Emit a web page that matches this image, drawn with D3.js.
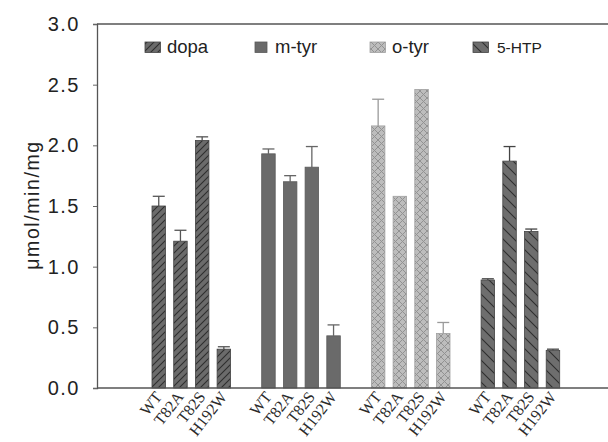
<!DOCTYPE html>
<html><head><meta charset="utf-8">
<script src="https://cdn.jsdelivr.net/npm/d3@7"></script>
<style>
html,body{margin:0;padding:0;background:#fff;}
svg{display:block;}
</style>
</head><body>
<svg id="chart" width="608" height="442"></svg>
<script>
// ---- data ----
const groups = ["dopa", "m-tyr", "o-tyr", "5-HTP"];
const variants = ["WT", "T82A", "T82S", "H192W"];
const dopa     = [1.50, 1.21, 2.04, 0.32];
const dopaErr  = [0.08, 0.09, 0.03, 0.02];
const mtyr     = [1.93, 1.70, 1.82, 0.43];
const mtyrErr  = [0.04, 0.05, 0.17, 0.09];
const otyr     = [2.16, 1.58, 2.46, 0.45];
const otyrErr  = [0.22, 0.00, 0.00, 0.09];
const htp      = [0.89, 1.87, 1.29, 0.31];
const htpErr   = [0.01, 0.12, 0.02, 0.01];
const yTicks   = [0, 0.5, 1.0, 1.5, 2.0, 2.5, 3.0];
const yLabel   = "μmol/min/mg";

const seriesVals = [dopa, mtyr, otyr, htp];
const seriesErr  = [dopaErr, mtyrErr, otyrErr, htpErr];

// ---- layout ----
const svg = d3.select("#chart");
const axisX = 97, topY = 24, baseY = 388, rightX = 608;

const y = d3.scaleLinear().domain([0, 3]).range([baseY, topY]);
const xOuter = d3.scaleBand().domain(groups).range([152, 559.7]).paddingInner(0.2835).paddingOuter(0);
const xInner = d3.scaleBand().domain(variants).range([0, xOuter.bandwidth()]).paddingInner(0.378).paddingOuter(0);

// ---- patterns ----
const defs = svg.append("defs");
// dopa: "/" hatch
const pD = defs.append("pattern").attr("id", "pat-dopa").attr("patternUnits", "userSpaceOnUse")
  .attr("width", 7).attr("height", 7);
pD.append("rect").attr("width", 7).attr("height", 7).attr("fill", "#6b6b6b");
pD.append("path").attr("d", "M-1,1 L1,-1 M0,7 L7,0 M6,8 L8,6").attr("stroke", "#2e2e2e").attr("stroke-width", 1.1);
// 5-HTP: "\" hatch
const pH = defs.append("pattern").attr("id", "pat-htp").attr("patternUnits", "userSpaceOnUse")
  .attr("width", 11).attr("height", 11);
pH.append("rect").attr("width", 11).attr("height", 11).attr("fill", "#6e6e6e");
pH.append("path").attr("d", "M-1,10 L1,12 M0,0 L11,11 M10,-1 L12,1").attr("stroke", "#2e2e2e").attr("stroke-width", 1.1);
// o-tyr: cross hatch
const pO = defs.append("pattern").attr("id", "pat-otyr").attr("patternUnits", "userSpaceOnUse")
  .attr("width", 7).attr("height", 7);
pO.append("rect").attr("width", 7).attr("height", 7).attr("fill", "#bdbdbd");
pO.append("path").attr("d", "M0,0 L7,7 M0,7 L7,0").attr("stroke", "#929292").attr("stroke-width", 1);

const fills   = ["url(#pat-dopa)", "#6a6a6a", "url(#pat-otyr)", "url(#pat-htp)"];
const strokes = ["#444", "#5a5a5a", "#a0a0a0", "#444"];
const errCols = ["#555", "#666", "#9a9a9a", "#444"];

// ---- frame / axes ----
svg.append("line").attr("x1", axisX).attr("x2", rightX).attr("y1", topY).attr("y2", topY)
  .attr("stroke", "#555").attr("stroke-width", 1.3);

const yAxis = svg.append("g").attr("transform", `translate(${axisX},0)`)
  .call(d3.axisLeft(y).tickValues(yTicks).tickFormat(d3.format(".1f")).tickSize(4).tickPadding(13));
yAxis.select(".domain").attr("stroke", "#555").attr("stroke-width", 1.3);
yAxis.selectAll(".tick line").attr("stroke", "#666");
yAxis.selectAll(".tick text").attr("font-family", "Liberation Sans, Arial, sans-serif")
  .attr("font-size", 20).attr("fill", "#222").attr("letter-spacing", 1.5);

svg.append("text").attr("transform", `translate(39,${205}) rotate(-90)`)
  .attr("text-anchor", "middle").attr("font-family", "Liberation Sans, Arial, sans-serif")
  .attr("font-size", 19.5).attr("fill", "#222").attr("letter-spacing", 1.6).text(yLabel);

// ---- bars ----
groups.forEach((g, gi) => {
  const gx = xOuter(g);
  const data = variants.map((v, vi) => ({ v, val: seriesVals[gi][vi], err: seriesErr[gi][vi] }));
  const gg = svg.append("g");
  // error bars (upper only)
  data.forEach(d => {
    if (d.err <= 0) return;
    const cx = gx + xInner(d.v) + xInner.bandwidth() / 2;
    gg.append("line").attr("x1", cx).attr("x2", cx).attr("y1", y(d.val)).attr("y2", y(d.val + d.err))
      .attr("stroke", errCols[gi]).attr("stroke-width", 1.3);
    gg.append("line").attr("x1", cx - 6).attr("x2", cx + 6).attr("y1", y(d.val + d.err)).attr("y2", y(d.val + d.err))
      .attr("stroke", errCols[gi]).attr("stroke-width", 1.3);
  });
  gg.selectAll("rect").data(data).join("rect")
    .attr("x", d => gx + xInner(d.v))
    .attr("y", d => y(d.val))
    .attr("width", xInner.bandwidth())
    .attr("height", d => y(0) - y(d.val))
    .attr("fill", fills[gi])
    .attr("stroke", strokes[gi]).attr("stroke-width", 0.8);
  // x labels
  data.forEach(d => {
    const cx = gx + xInner(d.v) + xInner.bandwidth() / 2;
    svg.append("text")
      .attr("transform", `translate(${cx + 4},${baseY + 9}) rotate(-52)`)
      .attr("text-anchor", "end")
      .attr("font-family", "Liberation Serif, Times New Roman, serif")
      .attr("font-size", 16).attr("fill", "#2a2a2a")
      .text(d.v);
  });
});

// baseline axis
svg.append("line").attr("x1", axisX).attr("x2", rightX).attr("y1", baseY).attr("y2", baseY)
  .attr("stroke", "#555").attr("stroke-width", 1.3);

// ---- legend ----
const legendPos = [145, 255, 370, 473];
const legendSizes = [18.5, 18.5, 18.5, 15.5];
groups.forEach((g, gi) => {
  const lx = legendPos[gi];
  svg.append("rect").attr("x", lx).attr("y", 42).attr("width", gi === 1 ? 12 : 15.5).attr("height", 10.5)
    .attr("fill", fills[gi]).attr("stroke", strokes[gi]).attr("stroke-width", 0.8);
  svg.append("text").attr("x", lx + (gi === 1 ? 20 : 22) + (gi === 3 ? 2 : 0)).attr("y", 52.5)
    .attr("font-family", "Liberation Sans, Arial, sans-serif")
    .attr("font-size", legendSizes[gi]).attr("fill", "#222").text(g);
});
</script>
</body></html>
